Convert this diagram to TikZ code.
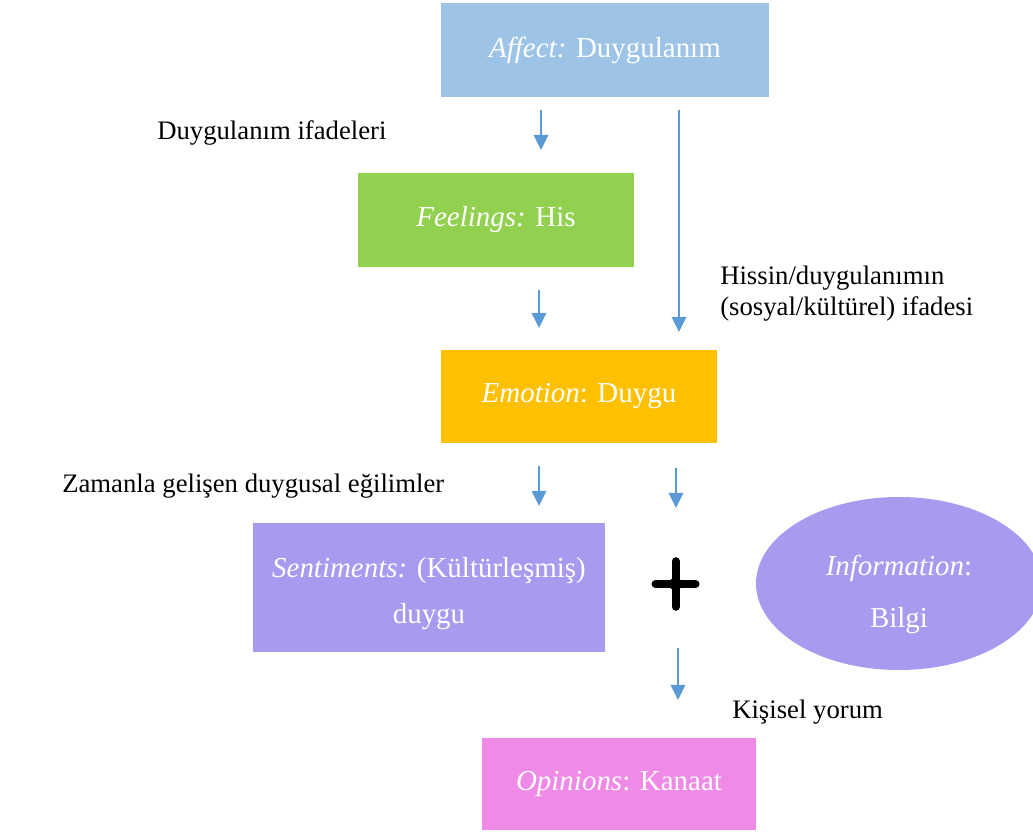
\documentclass[tikz,border=0pt]{standalone}
\usepackage{fontspec}
\setmainfont{Liberation Serif}
\usetikzlibrary{arrows.meta,shapes.geometric}
\definecolor{affectblue}{HTML}{9DC3E6}
\definecolor{feelgreen}{HTML}{92D050}
\definecolor{emoorange}{HTML}{FFC000}
\definecolor{sentpurple}{HTML}{A99AF0}
\definecolor{opinpink}{HTML}{EF8AE6}
\definecolor{arrowblue}{HTML}{5B9BD5}
\tikzset{
	box/.style={rectangle, inner sep=0pt, text=white, font=\fontsize{20.6}{32}\selectfont, align=center},
	lbl/.style={inner sep=0pt, anchor=west, font=\fontsize{19}{22}\selectfont, align=left},
	flow/.style={draw=arrowblue, line width=0.9pt, -{Triangle[width=0.37cm, length=0.38cm]}}
}

\begin{document}
\begin{tikzpicture}
			%%%%% START %%%%%
			\useasboundingbox (0, 0) rectangle (25.825, 20.8);
			
			\node[box, fill=affectblue, minimum width=8.2cm, minimum height=2.35cm] (affect) at (15.125, 19.55) {\textit{Affect:} Duygulanım};
			\node[box, fill=feelgreen, minimum width=6.9cm, minimum height=2.35cm] (feelings) at (12.4, 15.3) {\textit{Feelings:} His};
			\node[box, fill=emoorange, minimum width=6.9cm, minimum height=2.325cm] (emotion) at (14.475, 10.8875) {\textit{Emotion}: Duygu};
			\node[box, fill=sentpurple, minimum width=8.8cm, minimum height=3.225cm] (sentiments) at (10.725, 6.1125) {};
			\node[box, font=\fontsize{20.6}{33}\selectfont] (senttext) at ([yshift=-0.15cm]sentiments.center) {\textit{Sentiments:} (Kültürleşmiş)\\duygu};
			\node[box, ellipse, fill=sentpurple, minimum width=7.15cm, minimum height=4.325cm] (information) at (22.475, 6.2125) {};
			\node[box, font=\fontsize{20.6}{37}\selectfont] (infotext) at ([yshift=-0.27cm]information.center) {\textit{Information}:\\Bilgi};
			\node[box, fill=opinpink, minimum width=6.85cm, minimum height=2.3cm] (opinions) at (15.475, 1.2) {\textit{Opinions}: Kanaat};
			
			% plus
			\coordinate (plus) at (16.8875, 6.2);
			\draw[line width=0.2cm, line cap=round] ([xshift=-0.5cm]plus) -- ([xshift=0.5cm]plus);
			\draw[line width=0.2cm, line cap=round] ([yshift=-0.57cm]plus) -- ([yshift=0.57cm]plus);
			\fill (plus) circle (0.16);
			
			% arrows
			\coordinate (a1s) at (13.525, 18.05);
			\coordinate (a1e) at (13.525, 17.05);
			\coordinate (a2s) at (16.975, 18.05);
			\coordinate (a2e) at (16.975, 12.5);
			\coordinate (a3s) at (13.475, 13.55);
			\coordinate (a3e) at (13.475, 12.6);
			\coordinate (a4s) at (13.475, 9.15);
			\coordinate (a4e) at (13.475, 8.15);
			\coordinate (a5s) at (16.9, 9.1);
			\coordinate (a5e) at (16.9, 8.1);
			\coordinate (a6s) at (16.95, 4.6);
			\coordinate (a6e) at (16.95, 3.3);
			\draw[flow] (a1s) -- (a1e);
			\draw[flow] (a2s) -- (a2e);
			\draw[flow] (a3s) -- (a3e);
			\draw[flow] (a4s) -- (a4e);
			\draw[flow] (a5s) -- (a5e);
			\draw[flow] (a6s) -- (a6e);
			
			% labels
			\node[lbl] (expr) at (3.925, 17.475) {Duygulanım ifadeleri};
			\node[lbl] (social) at (18.0, 13.46) {Hissin/duygulanımın\\(sosyal/kültürel) ifadesi};
			\node[lbl] (time) at (1.55, 8.65) {Zamanla gelişen duygusal eğilimler};
			\node[lbl] (personal) at (18.3, 3.0) {Kişisel yorum};
			
			%%%%% END %%%%%
		\end{tikzpicture}
\end{document}
